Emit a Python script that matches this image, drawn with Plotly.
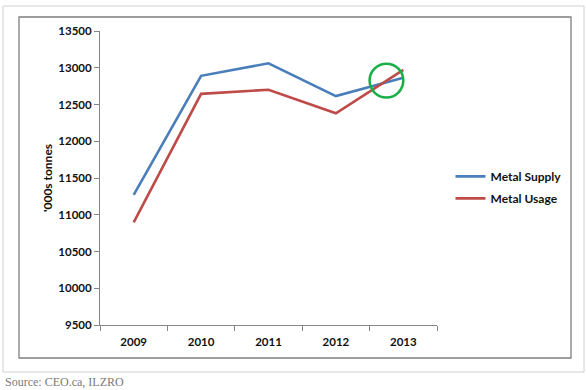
import plotly.graph_objects as go

years = ["2009", "2010", "2011", "2012", "2013"]
metal_supply = [11270, 12890, 13060, 12615, 12865]
metal_usage = [10895, 12645, 12700, 12380, 12970]
y_ticks = [9500, 10000, 10500, 11000, 11500, 12000, 12500, 13000, 13500]

fig = go.Figure()
fig.add_trace(go.Scatter(x=years, y=metal_supply, mode="lines", name="Metal Supply",
                         legendgroup="a",
                         line=dict(color="#4A7EBB", width=2.6), hoverinfo="skip"))
fig.add_trace(go.Scatter(x=years, y=metal_usage, mode="lines", name="Metal Usage",
                         legendgroup="b",
                         line=dict(color="#BE4B48", width=2.6), hoverinfo="skip"))

fam = "Lato"
tick_font = dict(family=fam, size=11.5, color="#111", weight="bold")
fig.update_layout(
    width=586, height=390,
    margin=dict(l=100, r=149, t=31, b=65),
    paper_bgcolor="white", plot_bgcolor="white",
    showlegend=True,
    legend=dict(x=1.04, y=0.468, xanchor="left", yanchor="middle",
                font=dict(family=fam, size=12, color="#111", weight="bold"),
                tracegroupgap=3, itemwidth=30, bgcolor="rgba(0,0,0,0)"),
    xaxis=dict(type="category", range=[-0.5, 4.5], showline=True, linecolor="#868686",
               linewidth=1, ticks="outside", tickson="boundaries", ticklen=5,
               tickcolor="#868686", showgrid=False, zeroline=False,
               tickfont=tick_font, ticklabelstandoff=6),
    yaxis=dict(range=[9500, 13500], tickvals=y_ticks, showline=True, linecolor="#868686",
               linewidth=1, ticks="outside", ticklen=5, tickcolor="#868686",
               showgrid=False, zeroline=False, tickformat="d",
               tickfont=tick_font,
               title=dict(text="'000s tonnes", font=dict(family=fam, size=12, color="#111", weight="bold"),
                          standoff=3)),
)

# green circle highlight
fig.add_shape(type="circle", xref="x", yref="y", x0=3.5, x1=4.0, y0=12595, y1=13055,
              line=dict(color="#1AAF48", width=2.6))

# inner chart border
fig.add_shape(type="rect", xref="paper", yref="paper",
              x0=(19 - 100) / 337, x1=(571 - 100) / 337,
              y0=(325 - 358) / 294, y1=(325 - 17) / 294,
              line=dict(color="#7f7f7f", width=1.3), layer="below")
# outer frame
fig.add_shape(type="rect", xref="paper", yref="paper",
              x0=(3 - 100) / 337, x1=(584 - 100) / 337,
              y0=(325 - 372) / 294, y1=(325 - 6) / 294,
              line=dict(color="#d0d0d0", width=1), layer="below")

fig.add_annotation(text="Source: CEO.ca, ILZRO", xref="paper", yref="paper",
                   x=(3 - 100) / 337, y=(325 - 382) / 294, xanchor="left", yanchor="middle",
                   showarrow=False, font=dict(family="Liberation Serif", size=12, color="#7a7a7a"))

fig.write_html("out.html", config={"displayModeBar": False},
               post_script="document.body.style.margin='0';document.body.style.overflow='hidden';")
